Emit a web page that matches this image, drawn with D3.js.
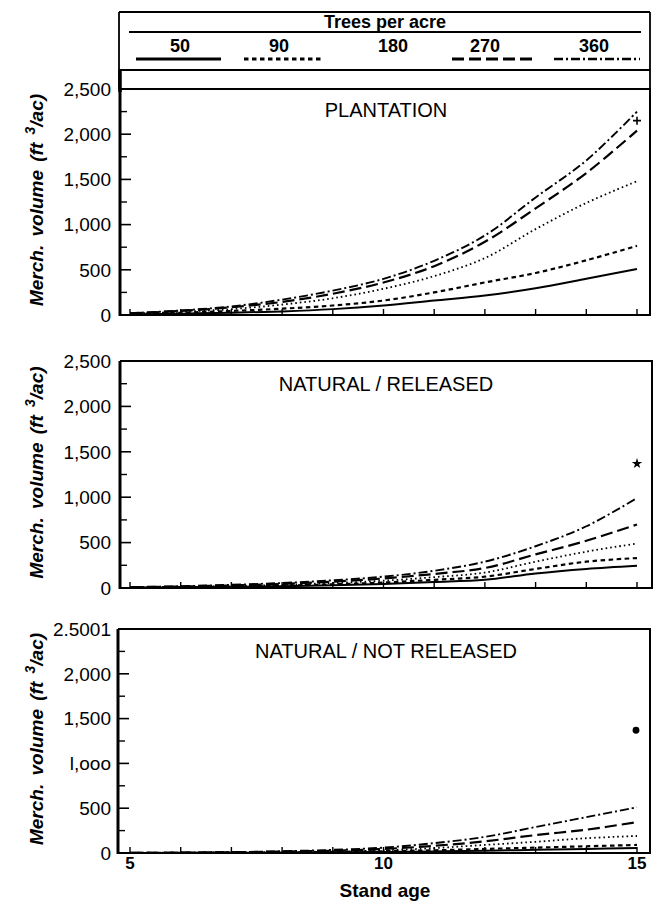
<!DOCTYPE html>
<html><head><meta charset="utf-8">
<script src="https://cdn.jsdelivr.net/npm/d3@7"></script>
<style>
body{margin:0;background:#fff}
text{font-family:"Liberation Sans",Arial,Helvetica,sans-serif;fill:#000}
</style>
</head><body>
<svg id="c" width="656" height="907"></svg>
<script>
// ---------- data ----------
const ages = [5, 6, 7, 8, 9, 10, 11, 12, 13, 14, 15];
const densities = ["50", "90", "180", "270", "360"];
const legendTitle = "Trees per acre";

// Plantation
const plant50  = [5, 15, 25, 40, 65, 105, 160, 215, 295, 400, 510];
const plant90  = [10, 25, 45, 70, 105, 160, 250, 360, 465, 605, 765];
const plant180 = [15, 35, 65, 115, 185, 290, 430, 630, 950, 1240, 1480];
const plant270 = [18, 45, 85, 145, 235, 360, 540, 810, 1180, 1570, 2040];
const plant360 = [20, 50, 95, 170, 270, 400, 600, 880, 1300, 1710, 2250];
const plantObserved = 2150;

// Natural / released
const rel50  = [3, 7, 12, 20, 30, 45, 65, 90, 160, 210, 245];
const rel90  = [4, 9, 16, 26, 40, 60, 90, 125, 210, 290, 330];
const rel180 = [6, 12, 22, 35, 55, 80, 120, 170, 290, 400, 490];
const rel270 = [8, 16, 28, 45, 70, 105, 155, 220, 370, 520, 700];
const rel360 = [10, 20, 35, 55, 85, 125, 190, 290, 460, 680, 990];
const relObserved = 1370;

// Natural / not released
const nrel50  = [0, 1, 3, 5, 8, 12, 18, 25, 35, 45, 55];
const nrel90  = [0, 2, 4, 7, 12, 20, 30, 45, 60, 75, 90];
const nrel180 = [1, 3, 6, 10, 18, 30, 55, 90, 125, 165, 190];
const nrel270 = [1, 4, 8, 15, 25, 45, 80, 130, 200, 260, 345];
const nrel360 = [2, 5, 10, 20, 35, 60, 110, 180, 290, 400, 510];
const nrelObserved = 1370;

const yTickValues = [0, 500, 1000, 1500, 2000, 2500];
const yTickLabels = ["0", "500", "1,000", "1,500", "2,000", "2,500"];
const yTickLabelsNR = ["0", "500", "l,ooo", "1,500", "2,000", "2.5001"];
const yMinorValues = [250, 750, 1250, 1750, 2250];
const xTickLabels = ["5", "10", "15"];
const xTickValues = [5, 10, 15];

// ---------- styles ----------
const styles = {
  "50":  {dash: null, w: 2},
  "90":  {dash: "4.5,3.5", w: 2.2},
  "180": {dash: "1.6,3", w: 1.8},
  "270": {dash: "12,5", w: 2.2},
  "360": {dash: "9,3,2,3", w: 1.9}
};

const svg = d3.select("#c");
const x = d3.scaleLinear().domain([5, 15]).range([130, 637]);

const panels = [
  {title: "PLANTATION", top: 89, bottom: 315, left: 120, right: 650, titleY: 117,
   series: [plant50, plant90, plant180, plant270, plant360], labels: yTickLabels,
   marker: "plus", obs: plantObserved},
  {title: "NATURAL / RELEASED", top: 361, bottom: 588, left: 120, right: 652, titleY: 391,
   series: [rel50, rel90, rel180, rel270, rel360], labels: yTickLabels,
   marker: "star", obs: relObserved},
  {title: "NATURAL / NOT RELEASED", top: 629, bottom: 853, left: 118, right: 650, titleY: 658,
   series: [nrel50, nrel90, nrel180, nrel270, nrel360], labels: yTickLabelsNR,
   marker: "dot", obs: nrelObserved}
];

// ---------- legend ----------
const lg = svg.append("g");
lg.append("path").attr("d", "M119,12H650M119,12V89M650,12V89M119,70H650")
  .attr("stroke", "#000").attr("stroke-width", 1.8).attr("fill", "none");
lg.append("line").attr("x1", 129).attr("x2", 641).attr("y1", 32).attr("y2", 32)
  .attr("stroke", "#000").attr("stroke-width", 1.8);
lg.append("line").attr("x1", 120).attr("x2", 120).attr("y1", 70).attr("y2", 92)
  .attr("stroke", "#000").attr("stroke-width", 3.5);
lg.append("text").attr("x", 385).attr("y", 28).attr("text-anchor", "middle")
  .attr("font-size", 18).attr("font-weight", "bold").text(legendTitle);
const legX = {"50": 180, "90": 279, "180": 393, "270": 485, "360": 594};
const legSample = {"50": [136, 221], "90": [244, 322], "180": null, "270": [452, 534], "360": [554, 640]};
densities.forEach(k => {
  lg.append("text").attr("x", legX[k]).attr("y", 52).attr("text-anchor", "middle")
    .attr("font-size", 18).attr("font-weight", "bold").text(k);
  const s = legSample[k];
  if (s) {
    lg.append("line").attr("x1", s[0]).attr("x2", s[1]).attr("y1", 59).attr("y2", 59)
      .attr("stroke", "#000").attr("stroke-width", styles[k].w + 0.8)
      .attr("stroke-dasharray", styles[k].dash);
  }
});

// ---------- panels ----------
panels.forEach(p => {
  const g = svg.append("g");
  const y = d3.scaleLinear().domain([0, 2500]).range([p.bottom, p.top]);

  // frame
  g.append("path")
    .attr("d", `M${p.left},${p.top}H${p.right}V${p.bottom}H${p.left}`)
    .attr("fill", "none").attr("stroke", "#000").attr("stroke-width", 2);
  g.append("line").attr("x1", p.left).attr("x2", p.left).attr("y1", p.top).attr("y2", p.bottom + 1)
    .attr("stroke", "#000").attr("stroke-width", 3);

  // y ticks (inward)
  yTickValues.forEach((v, i) => {
    g.append("line").attr("x1", p.left).attr("x2", p.left + 11).attr("y1", y(v)).attr("y2", y(v))
      .attr("stroke", "#000").attr("stroke-width", 1.6);
    g.append("text").attr("x", 111).attr("y", y(v)).attr("dy", "0.36em")
      .attr("text-anchor", "end").attr("font-size", 19).text(p.labels[i]);
  });
  yMinorValues.forEach(v => {
    g.append("line").attr("x1", p.left).attr("x2", p.left + 7).attr("y1", y(v)).attr("y2", y(v))
      .attr("stroke", "#000").attr("stroke-width", 1.4);
  });
  // x ticks (inward)
  ages.forEach(a => {
    g.append("line").attr("x1", x(a)).attr("x2", x(a)).attr("y1", p.bottom).attr("y2", p.bottom - 6)
      .attr("stroke", "#000").attr("stroke-width", 1.4);
  });

  // y label
  const yl = g.append("text")
    .attr("transform", `translate(43,${(p.top + p.bottom) / 2 - 2}) rotate(-90)`)
    .attr("text-anchor", "middle").attr("font-size", 19)
    .attr("font-weight", "bold").attr("font-style", "italic")
    .attr("word-spacing", 3);
  yl.append("tspan").text("Merch. volume (ft ");
  yl.append("tspan").attr("dy", -8).attr("font-size", 14).text("3");
  yl.append("tspan").attr("dy", 8).text("/ac)");

  // title
  g.append("text").attr("x", 386).attr("y", p.titleY).attr("text-anchor", "middle")
    .attr("font-size", 20).text(p.title);

  // curves
  const line = d3.line().x((d, i) => x(ages[i])).y(d => y(d)).curve(d3.curveCatmullRom.alpha(0.5));
  p.series.forEach((s, i) => {
    const st = styles[densities[i]];
    g.append("path").datum(s).attr("d", line).attr("fill", "none")
      .attr("stroke", "#000").attr("stroke-width", st.w)
      .attr("stroke-dasharray", st.dash);
  });

  // observed marker
  const mx = x(15), my = y(p.obs);
  if (p.marker === "plus") {
    g.append("path").attr("d", `M${mx - 4},${my}H${mx + 4}M${mx},${my - 4}V${my + 4}`)
      .attr("stroke", "#000").attr("stroke-width", 1.6);
  } else if (p.marker === "star") {
    g.append("path").attr("d", d3.symbol().type(d3.symbolStar).size(34)())
      .attr("transform", `translate(${mx},${my})`).attr("fill", "#000");
  } else {
    g.append("circle").attr("cx", mx - 1).attr("cy", my).attr("r", 3.4).attr("fill", "#000");
  }
});

// ---------- x axis labels (bottom panel) ----------
xTickValues.forEach((v, i) => {
  svg.append("text").attr("x", x(v)).attr("y", 869).attr("text-anchor", "middle")
    .attr("font-size", 17).attr("font-weight", "bold")
    .attr("font-family", i === 0 ? "'Liberation Serif',serif" : null)
    .text(xTickLabels[i]);
});
svg.append("text").attr("x", 385).attr("y", 897).attr("text-anchor", "middle")
  .attr("font-size", 19).attr("font-weight", "bold").text("Stand age");
</script>
</body></html>
